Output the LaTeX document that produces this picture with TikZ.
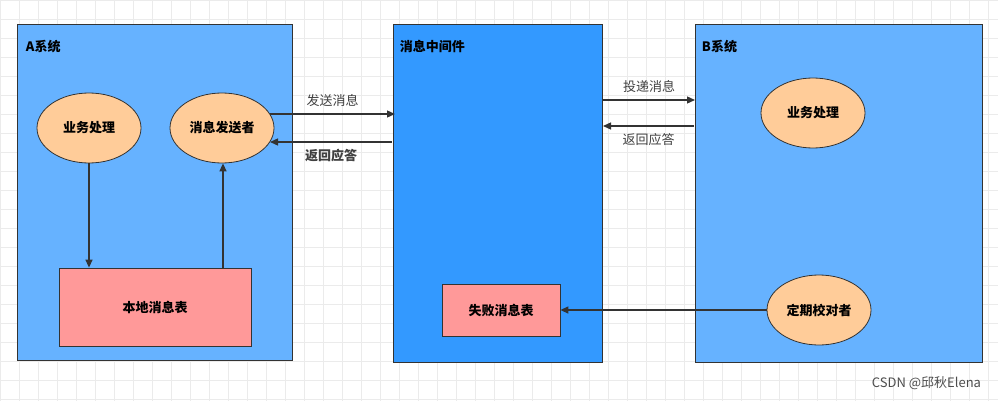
\documentclass[tikz,border=0pt]{standalone}
\usepackage{fontspec}
\setmainfont{Liberation Sans}
\newfontfamily\cjk{Noto Sans CJK SC}
\usetikzlibrary{shapes.geometric,arrows.meta}
\definecolor{sysblue}{HTML}{66B2FF}
\definecolor{midblue}{HTML}{3399FF}
\definecolor{ovalfill}{HTML}{FFCC99}
\definecolor{tablefill}{HTML}{FF9999}
\newcommand{\diafont}{\cjk\fontsize{13}{15}\selectfont}
\tikzstyle{system}=[draw=black!80,thick,fill=sysblue,anchor=north west,inner sep=0pt]
\tikzstyle{oval}=[ellipse,draw=black!80,thick,fill=ovalfill,minimum width=104pt,minimum height=70pt,font=\diafont\bfseries]
\tikzstyle{table}=[draw=black!80,thick,fill=tablefill,font=\diafont\bfseries]
\tikzstyle{title}=[anchor=north west,font=\diafont\bfseries]
\tikzstyle{msg}=[font=\diafont,text=black!75]
\begin{document}
\begin{tikzpicture}[x=1pt,y=-1pt,>={Triangle[length=8pt,width=7pt]},
    line width=1.3pt]
    \useasboundingbox (0,0) rectangle (998,401);
    \fill[white] (0,0) rectangle (998,401);
    % background grid
    \draw[black!8,line width=0.5pt,step=19pt] (0,0) grid (998,401);
    % the three systems
    \node (sysA) [system,minimum width=275pt,minimum height=336pt] at (17,24) {};
    \node (mid) [system,fill=midblue,minimum width=209pt,minimum height=338pt] at (393,24) {};
    \node (sysB) [system,minimum width=287pt,minimum height=338pt] at (695,24) {};
    \node [title] at (22,36) {A系统};
    \node [title] at (396,36) {消息中间件};
    \node [title] at (698,36) {B系统};
    % nodes inside
    \node (workA) [oval] at (89,128) {业务处理};
    \node (sender) [oval] at (222,128) {消息发送者};
    \node (local) [table,minimum width=192pt,minimum height=78pt] at (155,307) {本地消息表};
    \node (failed) [table,minimum width=118pt,minimum height=52pt] at (501,310) {失败消息表};
    \node (workB) [oval] at (813,113) {业务处理};
    \node (checker) [oval] at (819,310) {定期校对者};
    % arrows
    \draw[->,black!80] (workA.south) -- (workA.south |- local.north);
    \draw[->,black!80] (local.north -| 223,0) -- (sender.south -| 223,0);
    \draw[->,black!80] (270,114) -- node[msg,above=3pt] {发送消息} (395,114);
    \draw[->,black!80] (392,142) -- node[msg,font=\diafont\bfseries,below=3pt] {返回应答} (270,142);
    \draw[->,black!80] (603,100) -- node[msg,above=3pt] {投递消息} (695,100);
    \draw[->,black!80] (694,126) -- node[msg,below=3pt] {返回应答} (603,126);
    \draw[->,black!80] (checker.west) -- (failed.east);
    \node [anchor=south east,font=\diafont,text=black!70] at (985,394) {CSDN @邱秋Elena};
\end{tikzpicture}
\end{document}
